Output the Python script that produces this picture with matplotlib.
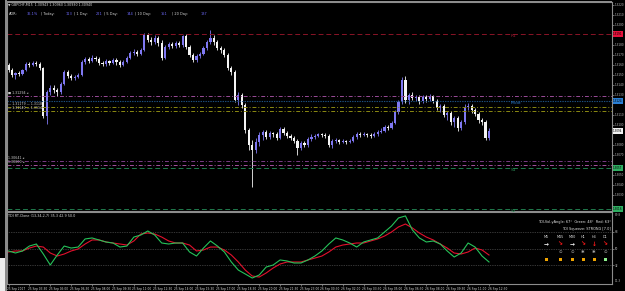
import numpy as np
import matplotlib
matplotlib.use("Agg")
import matplotlib.pyplot as plt
from matplotlib.patches import Rectangle

# ---------------- data ----------------
chart_title = "GBPCHF,M15  1.30943 1.30960 1.30930 1.30940"
POINT = 1e-4  # price points -> price

open_pts = [13160, 13155, 13150, 13152, 13151, 13155, 13161, 13160, 13162, 13161,
            13157, 13109, 13133, 13137, 13135, 13133, 13141, 13153, 13149, 13147,
            13148, 13150, 13163, 13166, 13164, 13167, 13166, 13162, 13161, 13164,
            13162, 13165, 13163, 13160, 13163, 13167, 13172, 13173, 13171, 13175,
            13190, 13185, 13183, 13187, 13182, 13167, 13178, 13181, 13179, 13182,
            13180, 13189, 13178, 13170, 13165, 13169, 13171, 13177, 13183, 13187,
            13183, 13177, 13175, 13170, 13157, 13153, 13125, 13130, 13120, 13095,
            13080, 13075, 13083, 13090, 13093, 13088, 13092, 13091, 13087, 13096,
            13092, 13089, 13087, 13084, 13077, 13082, 13080, 13086, 13088, 13089,
            13091, 13090, 13089, 13080, 13084, 13085, 13083, 13084, 13083, 13084,
            13088, 13091, 13090, 13091, 13090, 13089, 13091, 13093, 13094, 13098,
            13097, 13102, 13113, 13123, 13145, 13125, 13130, 13127, 13128, 13124,
            13128, 13126, 13129, 13124, 13117, 13119, 13110, 13112, 13103, 13107,
            13097, 13103, 13118, 13119, 13115, 13111, 13105, 13103, 13087]
high_pts = [13162, 13157, 13153, 13154, 13156, 13163, 13163, 13164, 13164, 13163,
            13158, 13135, 13140, 13140, 13137, 13143, 13155, 13155, 13151, 13150,
            13152, 13165, 13168, 13168, 13170, 13169, 13168, 13164, 13166, 13165,
            13167, 13167, 13165, 13165, 13169, 13174, 13176, 13175, 13177, 13192,
            13192, 13188, 13190, 13189, 13185, 13180, 13183, 13183, 13184, 13184,
            13190, 13191, 13180, 13172, 13171, 13173, 13179, 13185, 13195, 13190,
            13185, 13179, 13177, 13172, 13159, 13155, 13133, 13132, 13122, 13097,
            13085, 13087, 13093, 13095, 13095, 13094, 13093, 13093, 13098, 13098,
            13094, 13091, 13089, 13086, 13084, 13084, 13088, 13091, 13091, 13092,
            13092, 13092, 13091, 13086, 13087, 13086, 13086, 13085, 13086, 13090,
            13093, 13093, 13093, 13092, 13092, 13093, 13095, 13097, 13100, 13100,
            13104, 13115, 13125, 13148, 13149, 13132, 13133, 13130, 13130, 13130,
            13130, 13131, 13130, 13126, 13121, 13121, 13114, 13114, 13109, 13109,
            13105, 13121, 13122, 13121, 13117, 13113, 13107, 13105, 13097]
low_pts = [13153, 13148, 13146, 13149, 13150, 13154, 13158, 13159, 13159, 13155,
           13107, 13101, 13130, 13132, 13129, 13131, 13140, 13147, 13145, 13145,
           13147, 13149, 13161, 13162, 13163, 13164, 13160, 13159, 13159, 13160,
           13161, 13160, 13158, 13159, 13162, 13166, 13170, 13169, 13170, 13174,
           13183, 13180, 13181, 13179, 13165, 13166, 13176, 13177, 13177, 13178,
           13178, 13176, 13168, 13163, 13163, 13167, 13170, 13175, 13181, 13180,
           13175, 13172, 13168, 13155, 13150, 13123, 13120, 13117, 13092, 13075,
           13038, 13072, 13079, 13085, 13086, 13086, 13088, 13085, 13086, 13090,
           13087, 13085, 13082, 13070, 13075, 13078, 13078, 13084, 13086, 13088,
           13088, 13087, 13078, 13077, 13082, 13081, 13082, 13081, 13082, 13083,
           13086, 13088, 13089, 13088, 13087, 13088, 13089, 13092, 13093, 13095,
           13096, 13101, 13111, 13121, 13122, 13121, 13125, 13124, 13121, 13122,
           13123, 13124, 13122, 13115, 13113, 13108, 13105, 13100, 13098, 13094,
           13095, 13101, 13115, 13112, 13109, 13102, 13100, 13085, 13085]
close_pts = [13155, 13150, 13152, 13151, 13155, 13161, 13160, 13162, 13161, 13157,
             13109, 13133, 13137, 13135, 13133, 13141, 13153, 13149, 13147, 13148,
             13150, 13163, 13166, 13164, 13167, 13166, 13162, 13161, 13164, 13162,
             13165, 13163, 13160, 13163, 13167, 13172, 13173, 13171, 13175, 13190,
             13185, 13183, 13187, 13182, 13167, 13178, 13181, 13179, 13182, 13180,
             13189, 13178, 13170, 13165, 13169, 13171, 13177, 13183, 13187, 13183,
             13177, 13175, 13170, 13157, 13153, 13125, 13130, 13120, 13095, 13080,
             13075, 13083, 13090, 13093, 13088, 13092, 13091, 13087, 13096, 13092,
             13089, 13087, 13084, 13077, 13082, 13080, 13086, 13088, 13089, 13091,
             13090, 13089, 13080, 13084, 13085, 13083, 13084, 13083, 13084, 13088,
             13091, 13090, 13091, 13090, 13089, 13091, 13093, 13094, 13098, 13097,
             13102, 13113, 13123, 13145, 13125, 13130, 13127, 13128, 13124, 13128,
             13126, 13129, 13124, 13117, 13119, 13110, 13112, 13103, 13107, 13097,
             13103, 13118, 13119, 13115, 13111, 13105, 13103, 13087, 13094]

level_prices = [1.3191, 1.3129, 1.3124, 1.3118, 1.3114, 1.3064, 1.3060, 1.3057, 1.3016]
level_names = ["R1", "", "Pivot", "", "", "", "", "S1", "S2"]
bid_price = 1.3094
left_label_prices = [1.3129, 1.3118, 1.3114, 1.3064, 1.3060]
left_label_texts = ["\u25a0 1.31294 \u25c2", "\u2014 1.31179 \u2014 1.3118", "\u2014 1.31140 \u2014 1.3114",
                    "1.30641 \u25c2", "1.30600 \u25c2"]

# TDI values, every 2nd bar
tdi_step = 2
tdi_green = [47.3, 45.1, 47.3, 52.7, 54.9, 44.0, 32.0, 42.9, 52.7, 50.5,
             51.6, 60.4, 61.5, 59.3, 57.1, 56.0, 51.6, 52.7, 62.5, 64.7,
             69.1, 64.7, 56.0, 54.9, 56.0, 56.0, 46.2, 41.8, 50.5, 58.2,
             52.7, 46.2, 35.3, 26.5, 22.2, 17.8, 21.1, 29.8, 32.0, 37.5,
             36.4, 34.2, 34.2, 37.5, 41.8, 47.3, 54.9, 61.5, 59.3, 56.0,
             51.6, 57.1, 59.3, 61.5, 68.0, 74.5, 83.3, 85.5, 70.2, 61.5,
             57.1, 58.2, 54.9, 47.3, 40.7, 45.1, 56.0, 51.6, 41.8, 35.3]
tdi_red = [46.2, 47.3, 47.3, 50.5, 52.7, 51.6, 45.1, 41.8, 44.0, 47.3,
           49.5, 54.9, 59.3, 59.3, 57.1, 56.0, 54.9, 53.8, 58.2, 65.8,
           66.9, 65.8, 62.5, 58.2, 56.0, 56.0, 53.8, 47.3, 48.4, 51.6,
           51.6, 48.4, 42.9, 35.3, 26.5, 20.0, 18.9, 23.3, 28.7, 33.1,
           35.3, 35.3, 35.3, 37.5, 39.6, 41.8, 46.2, 51.6, 53.8, 54.9,
           56.0, 56.0, 58.2, 60.4, 63.6, 68.0, 73.5, 76.7, 72.4, 66.9,
           62.5, 59.3, 54.9, 50.5, 45.1, 44.0, 46.2, 50.5, 48.4, 42.9]
tdi_levels = [32, 50, 68]
tdi_range = [11.3, 89.8]
tdi_title = "TDI RT-Clone (13,34,2,7) 35.3 42.9 50.0"

label_every = 6
time_labels = ["25 Sep 2017", "25 Sep 03:30", "25 Sep 05:00", "25 Sep 06:30", "25 Sep 08:00",
               "25 Sep 09:30", "25 Sep 11:00", "25 Sep 12:30", "25 Sep 14:00", "25 Sep 15:30",
               "25 Sep 17:00", "25 Sep 18:30", "25 Sep 20:00", "25 Sep 21:30", "25 Sep 23:00",
               "26 Sep 00:30", "26 Sep 02:00", "26 Sep 03:30", "26 Sep 05:00", "26 Sep 06:30",
               "26 Sep 08:00", "26 Sep 09:30", "26 Sep 11:00", "26 Sep 12:30"]

adr_names = ["ADR:", "| Today:", "| 1 Day:", "| 5 Day:", "| 10 Day:", "| 20 Day:"]
adr_values = ["36.1%", "113", "221", "144", "151", "137"]

dash_line1 = "TDI-Vol-yAngle: 67\u00b0  Green: 48\u00b0  Red: 63\u00b0"
dash_line2 = "TDI Squeeze: STRONG [7.0]"
tf_names = ["M5", "M15", "M30", "H1", "H4", "D1"]
tf_arrows = ["\u2192", "\u2198", "\u2192", "\u2198", "\u2193", "\u2198"]
tf_state = ["\u00b7", "\u2299", "\u2299", "\u2731", "\u2731", "\u2299"]
tf_square_ok = [False, False, False, False, False, True]

# ---------------- layout helpers ----------------
W, H = 625, 291
fig = plt.figure(figsize=(W / 100, H / 100), dpi=100, facecolor="black")


def pax(x0, y0, x1, y1):
    return [x0 / W, 1 - y1 / H, (x1 - x0) / W, (y1 - y0) / H]


def fx(x):
    return x / W


def fy(y):
    return 1 - y / H


BG = "black"
BORDER = "#8c8c8c"
TXT = "#d8d8d8"
AXTXT = "#bdbdbd"

ax = fig.add_axes(pax(7, 2, 612, 211))
ax2 = fig.add_axes(pax(7, 212, 612, 284), sharex=ax)
for a in (ax, ax2):
    a.set_facecolor(BG)
    for s in a.spines.values():
        s.set_color(BORDER)
        s.set_linewidth(0.8)

# ---------------- candles ----------------
o = np.array(open_pts) * POINT
h = np.array(high_pts) * POINT
l = np.array(low_pts) * POINT
c = np.array(close_pts) * POINT
idx = np.arange(len(c))
bull = c >= o
cols = np.where(bull, "#7f78f2", "#f4f4f4")
ax.vlines(idx, l, h, colors=cols, lw=0.6)
ax.bar(idx, c - o, bottom=o, width=0.62, color=cols, linewidth=0)

spacing = 480.5 / 138
ax.set_xlim(-(8.5 - 7) / spacing, 138 + (612 - 489) / spacing)
ax.set_ylim(1.3014, 1.3223)

# ---------------- levels ----------------
lvl_styles = [
    dict(color="#8a1427", ls=(0, (5, 3)), lw=0.7),
    dict(color="#9a4c98", ls=(0, (4, 2, 1, 2)), lw=0.7),
    dict(color="#1d4f80", ls=(0, (1.2, 1)), lw=0.8),
    dict(color="#8c8a12", ls=(0, (4, 2, 1, 2)), lw=0.7),
    dict(color="#8c8a12", ls=(0, (4, 2, 1, 2)), lw=0.7),
    dict(color="#7a3c86", ls=(0, (4, 2, 1, 2)), lw=0.7),
    dict(color="#a4509f", ls=(0, (4, 2, 1, 2)), lw=0.7),
    dict(color="#1f7a4c", ls=(0, (5, 3)), lw=0.7),
    dict(color="#1f7a4c", ls=(0, (5, 3)), lw=0.7),
]
name_colors = {"R1": "#9a1a30", "Pivot": "#2a78c8", "S1": "#2a8a55", "S2": "#2a8a55"}
tag_colors = {"R1": "#e8123c", "Pivot": "#2a7fd4", "S1": "#2fae62", "S2": "#2fae62"}
tag_prices = []
for p, name, st in zip(level_prices, level_names, lvl_styles):
    ax.axhline(p, **st)
    if name:
        ax.text((511 - 7) / 605, p, name, transform=ax.get_yaxis_transform(),
                color=name_colors[name], fontsize=3.2, ha="left", va="top")
        ax.text(1.002, p, f"{p:.4f}", transform=ax.get_yaxis_transform(),
                fontsize=2.0, color="black", ha="left", va="center", clip_on=False,
                bbox=dict(boxstyle="square,pad=0.2", fc=tag_colors[name], ec="none"))
        tag_prices.append(p)
ax.text(1.002, bid_price, f"{bid_price:.4f}", transform=ax.get_yaxis_transform(),
        fontsize=2.0, color="black", ha="left", va="center", clip_on=False,
        bbox=dict(boxstyle="square,pad=0.2", fc="#f2f2f2", ec="none"))
tag_prices.append(bid_price)

for p, t in zip(left_label_prices, left_label_texts):
    ax.text(0.002, p + 0.00012, t, transform=ax.get_yaxis_transform(),
            color="#cfcfcf", fontsize=2.3, ha="left", va="bottom")

# price axis (skip ticks hidden beneath the coloured tags)
ticks = np.arange(13020, 13225, 10) * POINT
ticks = [t for t in ticks if min(abs(t - tp) for tp in tag_prices) > 0.0004]
ax.yaxis.tick_right()
ax.set_yticks(ticks)
ax.yaxis.set_major_formatter(matplotlib.ticker.FormatStrFormatter("%.4f"))
ax.tick_params(axis="y", labelsize=2.0, colors=AXTXT, length=1.2, width=0.4, pad=0.6)
ax.tick_params(axis="x", bottom=False, labelbottom=False)

# ---------------- header texts ----------------
fig.text(fx(8), fy(5), "\u25bc " + chart_title, color=TXT, fontsize=2.3, ha="left", va="center")
name_x = [9, 41, 74, 104, 135, 172]
val_x = [27, 66, 96, 127, 161, 201]
for nx, vx, nm, vv in zip(name_x, val_x, adr_names, adr_values):
    fig.text(fx(nx), fy(14), nm, color=TXT, fontsize=2.5, ha="left", va="center")
    fig.text(fx(vx), fy(14), vv, color="#6f6bff", fontsize=2.5, ha="left", va="center")

# ---------------- TDI ----------------
tdi_idx = np.arange(0, len(c), tdi_step)[:len(tdi_green)]
for lv in tdi_levels:
    ax2.axhline(lv, color="#6a6a6a", ls=(0, (1, 1.5)), lw=0.5)
ax2.plot(tdi_idx, tdi_red, color="#e3102c", lw=0.8)
ax2.plot(tdi_idx, tdi_green, color="#26c35a", lw=0.8)
ax2.set_ylim(*tdi_range)
ax2.yaxis.tick_right()
ax2.set_yticks(tdi_levels)
ax2.set_yticklabels([str(v) for v in tdi_levels])
ax2.tick_params(axis="y", labelsize=2.0, colors=AXTXT, length=1.2, width=0.4, pad=0.6)
ax2.text(1.005, 0.98, f"{tdi_range[1]:.1f}", transform=ax2.transAxes, fontsize=2.0,
         color=AXTXT, ha="left", va="top", clip_on=False)
ax2.text(1.005, 0.02, f"{tdi_range[0]:.1f}", transform=ax2.transAxes, fontsize=2.0,
         color=AXTXT, ha="left", va="bottom", clip_on=False)
ax2.text(0.002, 0.97, tdi_title, transform=ax2.transAxes, color=TXT, fontsize=2.4,
         ha="left", va="top")

# time axis
lab_idx = np.arange(len(time_labels)) * label_every
ax2.set_xticks(lab_idx)
ax2.set_xticklabels([])
ax2.tick_params(axis="x", colors=AXTXT, length=1.2, width=0.4, direction="out")
for xi, t in zip(lab_idx, time_labels):
    ax2.text(xi - 0.4, -0.04, t, transform=ax2.get_xaxis_transform(), color=TXT,
             fontsize=2.1, ha="left", va="top", clip_on=False)

# dashboard
fig.text(fx(611), fy(222), dash_line1, color="#e6e6e6", fontsize=2.5, ha="right", va="center")
fig.text(fx(611), fy(229), dash_line2, color="#e6e6e6", fontsize=2.5, ha="right", va="center")
tf_x = [546, 560, 572, 583, 594, 605]
for x, nm, ar, stt, ok in zip(tf_x, tf_names, tf_arrows, tf_state, tf_square_ok):
    fig.text(fx(x), fy(237), nm, color="#dcdcdc", fontsize=2.4, ha="center", va="center")
    fig.text(fx(x), fy(244), ar, color="white" if ar == "\u2192" else "#ff1a1a",
             fontsize=4.2, ha="center", va="center", fontweight="bold")
    fig.text(fx(x), fy(252), stt, color="#a8a8a8", fontsize=3.2, ha="center", va="center")
    fig.add_artist(Rectangle((fx(x - 1.5), fy(260.5)), 3 / W, 3 / H, transform=fig.transFigure,
                             color="#8cf08c" if ok else "#f0a400", lw=0))

# left strip
fig.add_artist(Rectangle((fx(5), 0), 2 / W, 1, transform=fig.transFigure, color="#8a8a8a", lw=0))
fig.add_artist(Rectangle((0, 0), 5 / W, 33 / H, transform=fig.transFigure, color="#ececec", lw=0))
fig.add_artist(Rectangle((fx(7), fy(2)), 605 / W, 1 / H, transform=fig.transFigure, color=BORDER, lw=0))

fig.savefig("out.png", dpi=100, facecolor="black")
